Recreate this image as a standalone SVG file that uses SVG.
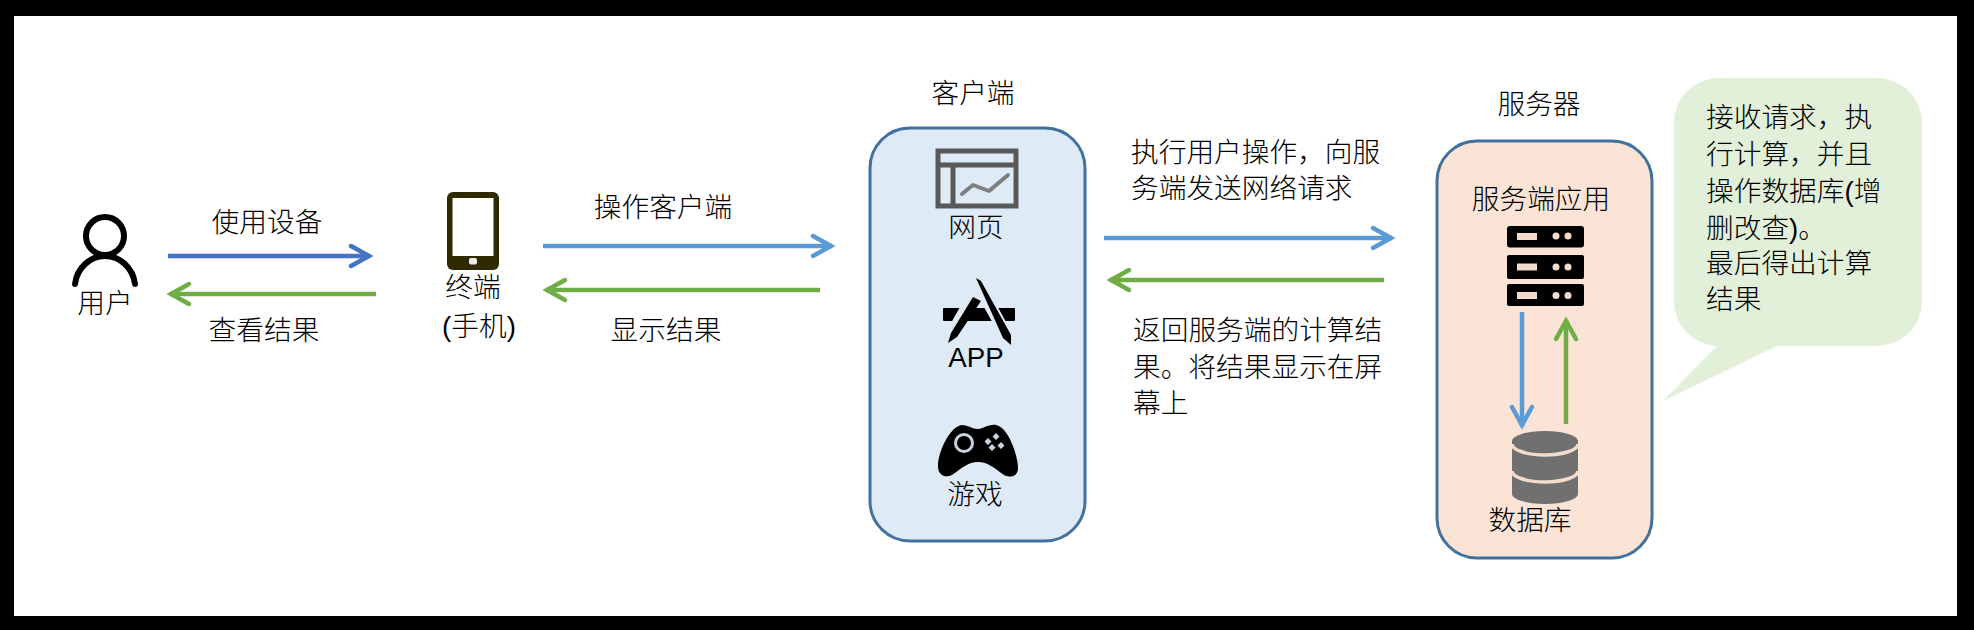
<svg xmlns="http://www.w3.org/2000/svg" width="1974" height="630" viewBox="0 0 1974 630">
<style>
text{font-family:"Liberation Sans","Noto Sans CJK SC",sans-serif;font-size:27.7px;fill:#000;font-weight:300}
.m{text-anchor:middle}
.a{fill:none;stroke-width:4.5}
.b1{stroke:#4472c4}.b2{stroke:#5b9bd5}.g{stroke:#70ad47}
.box{stroke:#41719c;stroke-width:3}
.slot{fill:#f3dccb}
</style>
<defs>
<marker id="hb1" markerUnits="userSpaceOnUse" markerWidth="30" markerHeight="30" viewBox="-24 -15 30 30" refX="0" refY="0" orient="auto"><path d="M-19-10 L-1 0 L-19 10" fill="none" stroke="#4472c4" stroke-width="4.5" stroke-linecap="round"/></marker>
<marker id="hb2" markerUnits="userSpaceOnUse" markerWidth="30" markerHeight="30" viewBox="-24 -15 30 30" refX="0" refY="0" orient="auto"><path d="M-19-10 L-1 0 L-19 10" fill="none" stroke="#5b9bd5" stroke-width="4.5" stroke-linecap="round"/></marker>
<marker id="hg" markerUnits="userSpaceOnUse" markerWidth="30" markerHeight="30" viewBox="-24 -15 30 30" refX="0" refY="0" orient="auto"><path d="M-19-10 L-1 0 L-19 10" fill="none" stroke="#70ad47" stroke-width="4.5" stroke-linecap="round"/></marker>
</defs>
<rect width="1974" height="630" fill="#000"/>
<rect id="frame" x="14" y="16" width="1943" height="600" fill="#fff"/>

<g id="client-box"><rect class="box" x="870" y="128" width="215" height="413" rx="40" fill="#deeaf6"/><text class="m" x="973" y="103">客户端</text></g>
<g id="server-box"><rect class="box" x="1437" y="141" width="215" height="417" rx="40" fill="#fbe4d5"/><text class="m" x="1539" y="114">服务器</text></g>

<g id="user">
<circle cx="105" cy="236" r="19" fill="none" stroke="#000" stroke-width="6"/>
<path d="M75 284C77 268 90 256 105 256C120 256 133 268 135 284" fill="none" stroke="#000" stroke-width="6" stroke-linecap="round"/>
<text class="m" x="105" y="313">用户</text>
</g>
<g id="terminal">
<rect x="447" y="192" width="52" height="78" rx="6" fill="#2f2a00"/>
<rect x="452.500" y="198" width="41" height="58" fill="#fff"/>
<rect x="469" y="258" width="8" height="6.500" rx="2" fill="#eee"/>
<text class="m" x="473" y="297">终端</text>
<text class="m" x="479" y="336">(手机)</text>
</g>
<g id="web">
<rect x="938" y="151" width="78" height="55" fill="none" stroke="#595959" stroke-width="5"/>
<path d="M938 165H1016M953 165V206" fill="none" stroke="#595959" stroke-width="5"/>
<path d="M962 194L973 185L989 191L1008 175" fill="none" stroke="#7f7f7f" stroke-width="4" stroke-linecap="round" stroke-linejoin="round"/>
<text class="m" x="976" y="237">网页</text>
</g>
<g id="app">
<rect x="943" y="308" width="72" height="13" rx="1" fill="#000"/>
<path d="M972 298L950 337M977 282L1008 338" stroke="#deeaf6" stroke-width="12" fill="none"/>
<path d="M973 297L951 333L948 343L957 337L981 301Z" fill="#000"/>
<path d="M976 278L981 281L1011 335L1011 345L1003 338Z" fill="#000"/>
<text class="m" x="976" y="367">APP</text>
</g>
<g id="game">
<path d="M962 425C968 425 972 429 978 429C984 429 988 424 996 425C1008 427 1018 455 1018 468C1018 477 1010 478 1004 475C994 468 988 462 978 462C968 462 962 468 952 475C946 478 938 476 938 466C938 452 950 426 962 425Z" fill="#000"/>
<circle cx="964" cy="443" r="8.500" fill="none" stroke="#c9d3de" stroke-width="3"/>
<path d="M988 438l3.500 3.500l-3.500 3.500l-3.500-3.500zM996 433l3.500 3.500l-3.500 3.500l-3.500-3.500zM1001 442l3.500 3.500l-3.500 3.500l-3.500-3.500zM992 444l3.500 3.500l-3.500 3.500l-3.500-3.500z" fill="#c9d3de"/>
<text class="m" x="975" y="504">游戏</text>
</g>
<g id="server-app">
<text class="m" x="1541" y="209">服务端应用</text>
<rect x="1507" y="226" width="77" height="21.500" rx="3" fill="#000"/>
<rect x="1507" y="255" width="77" height="24" rx="2" fill="#000"/>
<rect x="1507" y="284" width="77" height="22" rx="2" fill="#000"/>
<g class="slot">
<rect x="1517" y="233" width="20" height="7"/><circle cx="1556" cy="236" r="3.500"/><circle cx="1568" cy="236" r="3.500"/>
<rect x="1517" y="263.500" width="20" height="7"/><circle cx="1556" cy="267" r="3.500"/><circle cx="1568" cy="267" r="3.500"/>
<rect x="1517" y="292" width="20" height="7"/><circle cx="1556" cy="295.500" r="3.500"/><circle cx="1568" cy="295.500" r="3.500"/>
</g>
</g>
<g id="database">
<path d="M1512 441A33 10 0 0 1 1578 441V494A33 10 0 0 1 1512 494Z" fill="#707070"/>
<path d="M1512 444A33 11 0 0 0 1578 444M1512 471A33 11 0 0 0 1578 471" fill="none" stroke="#f3dccb" stroke-width="3.500"/>
<text class="m" x="1530" y="530">数据库</text>
</g>
<g id="note">
<path d="M1719 78H1877A45 45 0 0 1 1922 123V301A45 45 0 0 1 1877 346H1777L1663 401L1717 346H1719A45 45 0 0 1 1674 301V123A45 45 0 0 1 1719 78Z" fill="#e2efd9"/>
<text x="1706" y="127">接收请求，执</text>
<text x="1706" y="164">行计算，并且</text>
<text x="1706" y="201">操作数据库(增</text>
<text x="1706" y="238">删改查)。</text>
<text x="1706" y="273">最后得出计算</text>
<text x="1706" y="309">结果</text>
</g>

<g id="connectors">
<path class="a b1" d="M168 256H370" marker-end="url(#hb1)"/>
<path class="a g" d="M376 294H170" marker-end="url(#hg)"/>
<path class="a b2" d="M543 246H832" marker-end="url(#hb2)"/>
<path class="a g" d="M820 290H546" marker-end="url(#hg)"/>
<path class="a b2" d="M1104 238H1392" marker-end="url(#hb2)"/>
<path class="a g" d="M1384 280H1110" marker-end="url(#hg)"/>
<path class="a b2" d="M1522 312V426" marker-end="url(#hb2)"/>
<path class="a g" d="M1566 424V320" marker-end="url(#hg)"/>
</g>
<g id="labels">
<text class="m" x="267" y="232">使用设备</text>
<text class="m" x="264" y="340">查看结果</text>
<text class="m" x="663" y="217">操作客户端</text>
<text class="m" x="666" y="340">显示结果</text>
<text x="1131" y="162">执行用户操作，向服</text>
<text x="1131" y="198">务端发送网络请求</text>
<text x="1133" y="340">返回服务端的计算结</text>
<text x="1133" y="377">果。将结果显示在屏</text>
<text x="1133" y="413">幕上</text>
</g>
</svg>
